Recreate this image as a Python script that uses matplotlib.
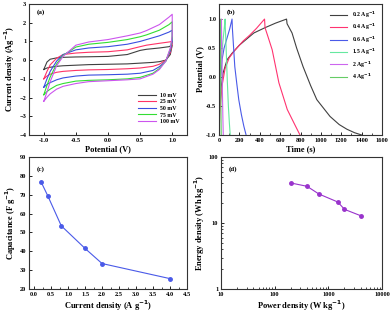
import matplotlib.pyplot as plt
import matplotlib.ticker as mticker

plt.rcParams['font.family'] = ['Liberation Serif', 'DejaVu Serif']
plt.rcParams['font.weight'] = 'bold'
plt.rcParams['mathtext.default'] = 'bf'

# (a) CV curves: forward sweep then reverse sweep
v_fwd = [-1.0, -0.95, -0.9, -0.8, -0.7, -0.5, -0.3, 0.0, 0.3, 0.5, 0.6, 0.8, 0.95, 1.0]
v_rev = [1.0, 0.97, 0.9, 0.8, 0.7, 0.5, 0.3, 0.0, -0.3, -0.5, -0.7, -0.8, -0.9, -0.95, -1.0]
cv_labels = ['10 mV', '25 mV', '50 mV', '75 mV', '100 mV']
cv_fwd = [
    [-0.5, -0.1, 0.05, 0.12, 0.15, 0.17, 0.18, 0.2, 0.3, 0.52, 0.58, 0.65, 0.72, 0.8],
    [-1.0, -0.6, -0.25, 0.1, 0.3, 0.38, 0.42, 0.45, 0.55, 0.72, 0.8, 0.9, 0.97, 1.0],
    [-1.45, -1.0, -0.6, -0.05, 0.3, 0.55, 0.65, 0.72, 0.85, 1.0, 1.1, 1.3, 1.5, 1.6],
    [-1.85, -1.35, -0.9, -0.2, 0.25, 0.7, 0.85, 0.95, 1.1, 1.25, 1.35, 1.6, 1.9, 2.05],
    [-2.2, -1.7, -1.15, -0.3, 0.2, 0.8, 0.97, 1.1, 1.3, 1.45, 1.58, 1.9, 2.3, 2.45],
]
cv_rev = [
    [0.8, 0.3, 0.0, -0.08, -0.12, -0.16, -0.2, -0.22, -0.24, -0.27, -0.3, -0.33, -0.38, -0.42, -0.5],
    [0.85, 0.4, 0.0, -0.22, -0.33, -0.42, -0.46, -0.5, -0.52, -0.55, -0.6, -0.65, -0.75, -0.85, -1.0],
    [1.0, 0.5, -0.05, -0.35, -0.55, -0.7, -0.75, -0.78, -0.8, -0.85, -0.95, -1.05, -1.2, -1.3, -1.45],
    [1.2, 0.6, -0.05, -0.45, -0.7, -0.92, -1.0, -1.05, -1.08, -1.12, -1.25, -1.35, -1.55, -1.68, -1.85],
    [1.3, 0.65, -0.05, -0.5, -0.75, -1.0, -1.05, -1.1, -1.15, -1.25, -1.4, -1.55, -1.8, -1.98, -2.2],
]
cv_colors = ['#404040', '#ff3366', '#3a4ee0', '#33dd33', '#cc55ee']

# (b) charge/discharge curves
gcd_labels = ['0.2 Ag$^{-1}$', '0.4 Ag$^{-1}$', '0.6 Ag$^{-1}$', '1.5 Ag$^{-1}$', '2 Ag$^{-1}$', '4 Ag$^{-1}$']
gcd_t = [
    [0, 5, 20, 40, 80, 128, 200, 342, 450, 555, 663, 668, 717, 762, 825, 900, 960, 1090, 1180, 1255, 1330, 1400],
    [0, 10, 30, 60, 100, 150, 236, 300, 368, 447, 452, 480, 522, 588, 670, 752, 795],
    [0, 5, 15, 30, 50, 80, 105, 128, 131, 140, 155, 175, 194, 220, 244, 266],
    [0, 3, 10, 20, 35, 48, 60, 62, 70, 80, 92, 102, 110],
    [0, 2, 6, 12, 18, 24, 25, 29, 34, 38, 42],
    [0, 1, 3, 6, 9, 12, 13, 15, 18, 20, 22],
]
gcd_v = [
    [-1.0, -0.6, -0.2, 0.07, 0.3, 0.41, 0.55, 0.76, 0.85, 0.93, 1.0, 0.92, 0.76, 0.5, 0.18, -0.15, -0.39, -0.68, -0.82, -0.9, -0.96, -1.0],
    [-1.0, -0.55, -0.15, 0.15, 0.33, 0.45, 0.62, 0.72, 0.84, 1.0, 0.85, 0.7, 0.47, -0.1, -0.56, -0.85, -1.0],
    [-1.0, -0.45, -0.05, 0.3, 0.5, 0.68, 0.83, 1.0, 0.85, 0.6, 0.18, -0.12, -0.39, -0.65, -0.85, -1.0],
    [-1.0, -0.5, -0.1, 0.25, 0.55, 0.78, 1.0, 0.85, 0.5, 0.0, -0.5, -0.8, -1.0],
    [-1.0, -0.5, -0.1, 0.3, 0.65, 1.0, 0.8, 0.3, -0.3, -0.7, -1.0],
    [-1.0, -0.5, -0.1, 0.3, 0.65, 1.0, 0.8, 0.3, -0.3, -0.7, -1.0],
]
gcd_colors = ['#404040', '#ff3370', '#4a5ae8', '#66e8a0', '#cc66ee', '#66cc66']

# (c) capacitance vs current density
current = [0.2, 0.4, 0.8, 1.5, 2.0, 4.0]
capacitance = [77, 69.5, 53.5, 41.5, 33.5, 25.5]

# (d) Ragone plot
power = [200, 400, 667, 1500, 2000, 4000]
energy = [40.4, 36, 27.5, 20.8, 16.1, 12.9]

fig = plt.figure(figsize=(3.92, 3.12), dpi=100)
W, H = 392, 312


def make_ax(l, r, t, b):
    ax = fig.add_axes([l / W, 1 - b / H, (r - l) / W, (b - t) / H])
    for s in ax.spines.values():
        s.set_linewidth(0.8)
        s.set_color('#333333')
    ax.tick_params(which='both', direction='in', labelsize=4.6, pad=2,
                   top=False, right=False)
    ax.tick_params(which='major', length=2, width=0.6)
    ax.tick_params(which='minor', length=1.2, width=0.5)
    return ax


lab = dict(fontsize=6, fontweight='bold', labelpad=1.5)

ax = make_ax(29, 187, 4, 135)
for i in range(5):
    ax.plot(v_fwd + v_rev, cv_fwd[i] + cv_rev[i], color=cv_colors[i], lw=0.8, label=cv_labels[i])
ax.set_xlim(-1.23, 1.23)
ax.set_ylim(-4, 3)
ax.set_xticks([-1.0, -0.5, 0.0, 0.5, 1.0])
ax.xaxis.set_major_formatter(mticker.FormatStrFormatter('%.1f'))
ax.set_xlabel('Potential (V)', **lab)
ax.set_ylabel('Current density (Ag$^{-1}$)', **lab)
ax.text(0.05, 0.93, '(a)', transform=ax.transAxes, fontsize=5)
ax.legend(loc='lower right', fontsize=4.2, frameon=False, handlelength=3,
          labelspacing=0.25, borderaxespad=0.8, bbox_to_anchor=(1.0, 0.03))

ax = make_ax(219, 382, 4, 135)
for i in range(6):
    ax.plot(gcd_t[i], gcd_v[i], color=gcd_colors[i], lw=0.8, label=gcd_labels[i])
ax.set_xlim(0, 1600)
ax.set_ylim(-1.0, 1.26)
ax.set_xticks(range(0, 1601, 200))
ax.set_yticks([-1.0, -0.5, 0.0, 0.5, 1.0])
ax.yaxis.set_major_formatter(mticker.FormatStrFormatter('%.1f'))
ax.xaxis.set_minor_locator(mticker.MultipleLocator(100))
ax.set_xlabel('Time (s)', **lab)
ax.set_ylabel('Potential (V)', **lab)
ax.text(0.05, 0.93, '(b)', transform=ax.transAxes, fontsize=5)
ax.legend(loc='upper right', fontsize=4.2, frameon=False, handlelength=3,
          labelspacing=0.35, borderaxespad=0.6)

ax = make_ax(29, 187, 157, 289)
ax.plot(current, capacitance, color='#4a5ae8', lw=0.8, marker='o', ms=2.5)
ax.set_xlim(-0.15, 4.5)
ax.set_ylim(20, 90)
ax.set_xticks([0.5 * k for k in range(10)])
ax.xaxis.set_major_formatter(mticker.FormatStrFormatter('%.1f'))
ax.xaxis.set_minor_locator(mticker.MultipleLocator(0.25))
ax.set_xlabel('Current density (A g$^{-1}$)', **lab)
ax.set_ylabel('Capacitance (F g$^{-1}$)', **lab)
ax.text(0.05, 0.9, '(c)', transform=ax.transAxes, fontsize=5)

ax = make_ax(221, 382, 157, 289)
ax.plot(power, energy, color='#9933cc', lw=0.8, marker='o', ms=2.5)
ax.set_xscale('log')
ax.set_yscale('log')
ax.set_xlim(10, 10000)
ax.set_ylim(1, 100)
ax.xaxis.set_major_formatter(mticker.FuncFormatter(lambda v, p: f'{v:g}'))
ax.yaxis.set_major_formatter(mticker.FuncFormatter(lambda v, p: f'{v:g}'))
ax.xaxis.set_minor_formatter(mticker.NullFormatter())
ax.yaxis.set_minor_formatter(mticker.NullFormatter())
ax.set_xlabel('Power density (W kg$^{-1}$)', **lab)
ax.set_ylabel('Energy density (Wh kg$^{-1}$)', **lab)
ax.text(0.05, 0.9, '(d)', transform=ax.transAxes, fontsize=5)

fig.savefig('out.png', dpi=100)
